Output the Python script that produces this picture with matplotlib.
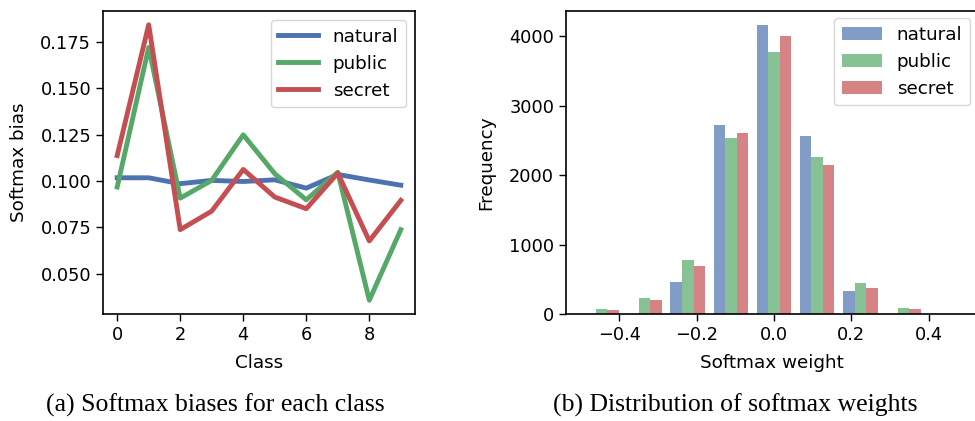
import numpy as np
import matplotlib
matplotlib.use("Agg")
import matplotlib.pyplot as plt

# ---- data ----
classes = list(range(10))
bias_natural = [0.1018, 0.1018, 0.0986, 0.1004, 0.0998, 0.1007, 0.0962, 0.1036, 0.1006, 0.0978]
bias_public = [0.0968, 0.1722, 0.0908, 0.1004, 0.1250, 0.1040, 0.0899, 0.1048, 0.0357, 0.0738]
bias_secret = [0.1138, 0.1844, 0.0738, 0.0838, 0.1063, 0.0914, 0.0851, 0.1043, 0.0677, 0.0896]

bin_edges = np.linspace(-0.502, 0.502, 10)
hist_natural = [0, 0, 464, 2719, 4155, 2561, 335, 0, 0]
hist_public = [77, 235, 780, 2532, 3767, 2259, 450, 91, 4]
hist_secret = [62, 206, 694, 2604, 3997, 2145, 378, 77, 4]

series_names = ["natural", "public", "secret"]
colors = ["#4C72B0", "#55A868", "#C44E52"]

plt.rcParams['font.family'] = ['DejaVu Sans']

fig = plt.figure(figsize=(9.75, 4.21), dpi=100)
W, H = 975.0, 421.0

def axrect(x0, y0, x1, y1):
    return [x0 / W, 1 - y1 / H, (x1 - x0) / W, (y1 - y0) / H]

ax1 = fig.add_axes(axrect(103, 11, 415, 314))
ax2 = fig.add_axes(axrect(566, 11, 977, 314))

FS = 13.2

# left plot
for vals, name, c in zip([bias_natural, bias_public, bias_secret], series_names, colors):
    ax1.plot(classes, vals, color=c, lw=3.5, label=name)
ax1.set_xticks([0, 2, 4, 6, 8])
ax1.set_yticks([0.050, 0.075, 0.100, 0.125, 0.150, 0.175])
ax1.set_xlabel("Class", fontsize=FS, labelpad=7)
ax1.set_ylabel("Softmax bias", fontsize=FS, labelpad=9)
ax1.legend(loc="upper right", fontsize=FS, handlelength=2.2)

# right plot: grouped histogram bars
bw = bin_edges[1] - bin_edges[0]
centers = (bin_edges[:-1] + bin_edges[1:]) / 2
sub = bw * 0.8 / 3
for i, (vals, name, c) in enumerate(zip([hist_natural, hist_public, hist_secret], series_names, colors)):
    ax2.bar(centers - bw * 0.4 + sub * (i + 0.5), vals, width=sub, color=c, alpha=0.7,
            label=name, linewidth=0)
ax2.set_xlim(-0.538, 0.525)
ax2.set_ylim(0, 4360)
ax2.set_xticks([-0.4, -0.2, 0.0, 0.2, 0.4])
ax2.set_yticks([0, 1000, 2000, 3000, 4000])
ax2.set_xlabel("Softmax weight", fontsize=FS, labelpad=7)
ax2.set_ylabel("Frequency", fontsize=FS, labelpad=10)
ax2.legend(loc="upper right", fontsize=FS, handlelength=2.2, borderaxespad=0.4)

for ax in (ax1, ax2):
    ax.tick_params(labelsize=12.8, direction="out", length=5, width=1)
    for s in ax.spines.values():
        s.set_linewidth(1.2)

fig.text(215 / W, 1 - 405 / H, "(a) Softmax biases for each class", ha="center", va="center",
         fontsize=18.5, family=["Liberation Serif"])
fig.text(735 / W, 1 - 405 / H, "(b) Distribution of softmax weights", ha="center", va="center",
         fontsize=18.5, family=["Liberation Serif"])

fig.savefig("out.png", dpi=100)
